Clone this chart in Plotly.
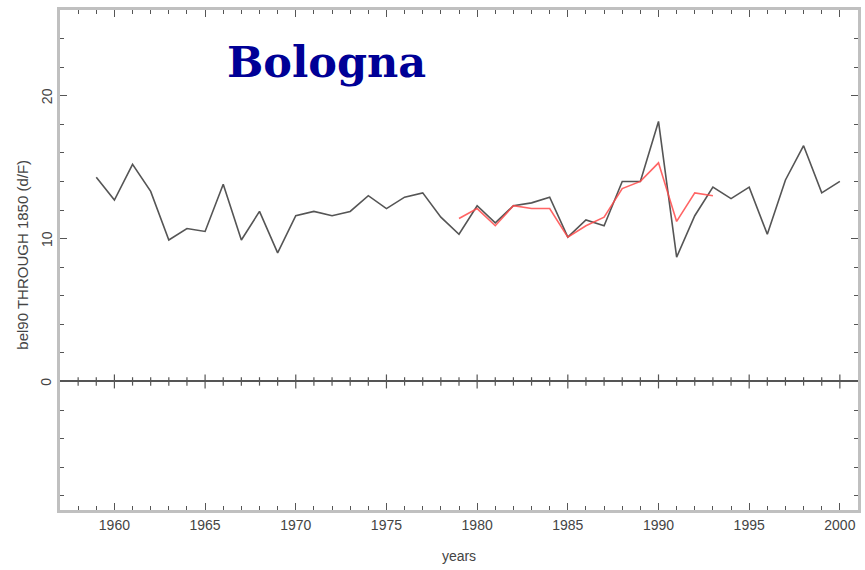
import plotly.graph_objects as go

# Annual index, Bologna station record
years = list(range(1959, 2001))
station = [14.3, 12.7, 15.2, 13.3, 9.9, 10.7, 10.5, 13.8, 9.9, 11.9,
           9.0, 11.6, 11.9, 11.6, 11.9, 13.0, 12.1, 12.9, 13.2, 11.5,
           10.3, 12.3, 11.1, 12.3, 12.5, 12.9, 10.1, 11.3, 10.9, 14.0,
           14.0, 18.2, 8.7, 11.6, 13.6, 12.8, 13.6, 10.3, 14.1, 16.5,
           13.2, 14.0]

# Comparison series, 1979-1993
comp_years = list(range(1979, 1994))
comparison = [11.4, 12.1, 10.9, 12.3, 12.1, 12.1, 10.1, 10.9, 11.5, 13.5,
              14.0, 15.3, 11.2, 13.2, 13.0]

x_range = [1957, 2001]
y_range = [-9, 26]
y_ticks = [0, 10, 20]
x_ticks = list(range(1960, 2001, 5))
title_text = "Bologna"
y_title = "bel90 THROUGH 1850 (d/F)"
x_title = "years"

tick_col = "#555555"

fig = go.Figure()

fig.add_trace(go.Scatter(
    x=years, y=station, mode="lines",
    line=dict(color="#555555", width=1.6), hoverinfo="skip", showlegend=False))

fig.add_trace(go.Scatter(
    x=comp_years, y=comparison, mode="lines",
    line=dict(color="#ff4a4a", width=1.6), opacity=0.85,
    hoverinfo="skip", showlegend=False))

# tick marks crossing the zero line
minor_years = [yr for yr in range(x_range[0] + 1, x_range[1]) if yr % 5 != 0]
fig.add_trace(go.Scatter(
    x=minor_years, y=[0] * len(minor_years), mode="markers",
    marker=dict(symbol="line-ns-open", size=6, color=tick_col,
                line=dict(color=tick_col, width=1.2)),
    hoverinfo="skip", showlegend=False))
fig.add_trace(go.Scatter(
    x=x_ticks, y=[0] * len(x_ticks), mode="markers",
    marker=dict(symbol="line-ns-open", size=10, color=tick_col,
                line=dict(color=tick_col, width=1.2)),
    hoverinfo="skip", showlegend=False))

axis_font = dict(family="Liberation Sans, Arial, sans-serif", size=14, color="#444444")

fig.update_xaxes(
    range=x_range, tickvals=x_ticks, ticks="inside", ticklen=7, tickwidth=1.2,
    tickcolor=tick_col, showline=True, linecolor="#c0c0c0", linewidth=3,
    mirror="allticks", showgrid=False, zeroline=False, tickfont=axis_font,
    minor=dict(dtick=1, tick0=1957, ticks="inside", ticklen=4, tickwidth=1.2,
               tickcolor=tick_col, showgrid=False),
    title=dict(text=x_title, font=axis_font, standoff=20))

fig.update_yaxes(
    range=y_range, tickvals=y_ticks, ticks="inside", ticklen=7, tickwidth=1.2,
    tickcolor=tick_col, showline=True, linecolor="#c0c0c0", linewidth=3,
    mirror="allticks", showgrid=False, zeroline=True, zerolinecolor=tick_col,
    zerolinewidth=2, showticklabels=False,
    minor=dict(dtick=2, tick0=0, ticks="inside", ticklen=4, tickwidth=1.2,
               tickcolor=tick_col, showgrid=False))

# rotated y tick labels
for v in y_ticks:
    fig.add_annotation(
        text=str(v), x=-0.017, xref="paper", y=v, yref="y",
        xanchor="center", yanchor="middle", textangle=-90, showarrow=False,
        font=axis_font)

# rotated y axis title
fig.add_annotation(
    text=y_title, x=-0.048, xref="paper", y=0.51, yref="paper",
    xanchor="center", yanchor="middle", textangle=-90, showarrow=False,
    font=dict(family="Liberation Sans, Arial, sans-serif", size=15, color="#444444"))

fig.add_annotation(
    text="<b>" + title_text + "</b>", xref="paper", yref="paper",
    x=0.334, y=0.895, xanchor="center", yanchor="middle", showarrow=False,
    font=dict(family="DejaVu Serif, serif", size=43, color="#000096"))

fig.update_layout(
    width=865, height=570,
    margin=dict(l=60, r=4, t=10, b=60),
    paper_bgcolor="white", plot_bgcolor="white")

fig.write_html("out.html")
